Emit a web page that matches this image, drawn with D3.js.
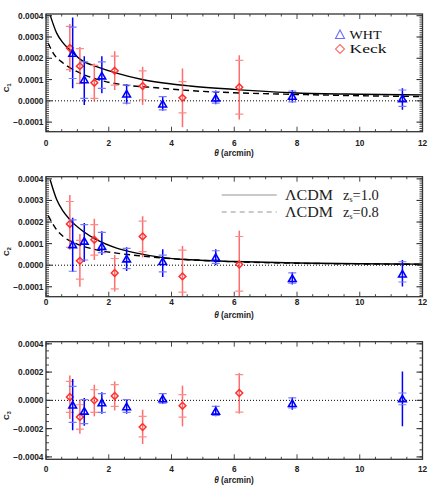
<!DOCTYPE html>
<html><head><meta charset="utf-8">
<script src="https://cdn.jsdelivr.net/npm/d3@7"></script>
<style>body{margin:0;background:#fff}svg{display:block}</style>
</head><body>
<script>
// ---------------- DATA (values in units of 1e-4) ----------------
const thetaWHT  = [0.85, 1.22, 1.78, 2.57, 3.72, 5.41, 7.85, 11.36];
const thetaKeck = [0.76, 1.08, 1.54, 2.19, 3.08, 4.35, 6.16];

// C1
const c1WHT       = [2.22, 0.98, 1.16, 0.31, -0.16, 0.12, 0.20, 0.09];
const c1WHTHi     = [3.92, 2.09, 2.09, 0.79, 0.23, 0.48, 0.51, 0.59];
const c1WHTLo     = [0.59, -0.19, 0.36, -0.16, -0.47, -0.16, -0.08, -0.42];
const c1WHTTickHi = [3.46, 1.83, 1.83, 0.74, 0.20, 0.43, 0.46, 0.51];
const c1WHTTickLo = [1.05, 0.12, 0.59, -0.11, -0.42, -0.11, -0.05, -0.26];
const c1Keck       = [2.48, 1.63, 0.85, 1.41, 0.70, 0.14, 0.64];
const c1KeckHi     = [3.61, 2.53, 1.75, 2.33, 1.60, 1.52, 2.14];
const c1KeckLo     = [1.36, 0.78, -0.03, 0.51, -0.19, -1.24, -0.88];
const c1KeckTickHi = [3.50, 2.45, 1.67, 2.10, 1.41, 0.90, 1.90];
const c1KeckTickLo = [1.47, 0.82, 0.12, 0.74, 0.05, -0.57, -0.62];

// C2
const c2WHT       = [0.94, 1.10, 0.86, 0.28, 0.16, 0.35, -0.63, -0.42];
const c2WHTHi     = [2.20, 1.96, 1.57, 0.83, 0.74, 0.74, -0.31, 0.24];
const c2WHTLo     = [-0.31, 0.16, 0.47, -0.27, -0.55, 0.00, -0.89, -0.99];
const c2WHTTickHi = [2.10, 1.88, 1.52, 0.78, 0.47, 0.67, -0.36, 0.16];
const c2WHTTickLo = [-0.28, 0.24, 0.58, -0.16, -0.31, 0.08, -0.83, -0.78];
const c2Keck       = [1.91, 0.20, 1.18, -0.36, 1.33, -0.52, 0.03];
const c2KeckHi     = [3.25, 1.45, 2.15, 0.47, 2.27, 0.89, 1.60];
const c2KeckLo     = [0.71, -1.00, 0.24, -1.22, 0.36, -1.50, -1.50];
const c2KeckTickHi = [2.95, 1.15, 1.88, 0.31, 2.04, 0.70, 1.33];
const c2KeckTickLo = [0.83, -0.65, 0.47, -1.10, 0.63, -1.25, -1.20];

// C3
const c3WHT       = [-0.35, -0.78, -0.19, -0.47, 0.09, -0.78, -0.24, 0.09];
const c3WHTHi     = [1.51, 0.17, 0.57, 0.09, 0.52, -0.38, 0.24, 2.05];
const c3WHTLo     = [-2.12, -1.79, -0.94, -0.94, -0.26, -1.13, -0.66, -1.84];
const c3WHTTickHi = [0.99, 0.05, 0.47, 0.05, 0.47, -0.42, 0.17, 0.52];
const c3WHTTickLo = [-1.56, -1.65, -0.85, -0.85, -0.19, -1.06, -0.54, -0.31];
const c3Keck       = [0.24, -1.18, 0.00, 0.31, -1.89, -0.38, 0.52];
const c3KeckHi     = [1.75, 0.05, 1.11, 1.34, -0.66, 1.04, 1.93];
const c3KeckLo     = [-1.32, -2.36, -1.13, -0.71, -3.09, -1.84, -0.94];
const c3KeckTickHi = [1.34, -0.31, 0.75, 1.11, -1.13, 0.40, 1.82];
const c3KeckTickLo = [-0.85, -2.03, -0.85, -0.42, -2.59, -1.18, -0.83];

// Model curves (LCDM)
const c1SolidTheta = [0.13, 0.34, 0.55, 0.76, 1.19, 1.61, 2.25, 3.1, 3.95, 4.59, 6, 8, 10, 12];
const c1SolidVal   = [4.04, 3.18, 2.71, 2.39, 1.85, 1.61, 1.30, 0.99, 0.80, 0.70, 0.54, 0.37, 0.31, 0.28];
const c1DashTheta  = [0.07, 0.23, 0.55, 0.98, 1.61, 2.46, 3.31, 4.59, 6, 8, 10, 12];
const c1DashVal    = [2.71, 2.24, 1.77, 1.38, 1.02, 0.75, 0.64, 0.48, 0.38, 0.30, 0.24, 0.20];
const c2SolidTheta = [0.13, 0.34, 0.55, 0.76, 1.19, 1.61, 2.25, 2.89, 3.74, 4.59, 6, 8, 10, 12];
const c2SolidVal   = [3.97, 3.04, 2.49, 2.11, 1.56, 1.18, 0.79, 0.56, 0.35, 0.25, 0.17, 0.10, 0.07, 0.05];
const c2DashTheta  = [0.07, 0.34, 0.55, 0.98, 1.61, 2.25, 2.89, 3.74, 4.59, 6, 8, 10, 12];
const c2DashVal    = [2.30, 1.64, 1.33, 0.99, 0.71, 0.56, 0.45, 0.33, 0.25, 0.16, 0.09, 0.06, 0.04];

const xTicks = [0, 2, 4, 6, 8, 10, 12];
const yTicks12 = [-1, 0, 1, 2, 3, 4];
const yTicks3 = [-4, -2, 0, 2, 4];
const legendSeries = ["WHT", "Keck"];
const legendModels = ["1.0", "0.8"];
const yLabels = ["1", "2", "3"];

// ---------------- DRAW ----------------
const W = 436, H = 490;
const svg = d3.select("body").append("svg").attr("width", W).attr("height", H);
const x = d3.scaleLinear().domain([0, 12]).range([46, 422.5]);
const fmtY = d => (d < 0 ? "\u2212" : "") + Math.abs(d * 1e-4).toFixed(4);
const tickFont = "'Liberation Sans', Arial, sans-serif";
const serif = "'Liberation Serif', 'Times New Roman', serif";
const BLUE = "#0000ff", BLUE_L = "#7a7aff", RED = "#ff3030", RED_L = "#ff8a8a";

const panels = [
  { top: 14, bottom: 131.7, domain: [-1.45, 4.08], yTicks: yTicks12, minor: 0.1, label: yLabels[0],
    wht: [c1WHT, c1WHTHi, c1WHTLo, c1WHTTickHi, c1WHTTickLo],
    keck: [c1Keck, c1KeckHi, c1KeckLo, c1KeckTickHi, c1KeckTickLo],
    solid: [c1SolidTheta, c1SolidVal], dash: [c1DashTheta, c1DashVal], xlab: 146, xtitle: 155.5 },
  { top: 176.7, bottom: 296.7, domain: [-1.46, 4.1], yTicks: yTicks12, minor: 0.1, label: yLabels[1],
    wht: [c2WHT, c2WHTHi, c2WHTLo, c2WHTTickHi, c2WHTTickLo],
    keck: [c2Keck, c2KeckHi, c2KeckLo, c2KeckTickHi, c2KeckTickLo],
    solid: [c2SolidTheta, c2SolidVal], dash: [c2DashTheta, c2DashVal], xlab: 305, xtitle: 317.5 },
  { top: 341.7, bottom: 459.3, domain: [-4.17, 4.15], yTicks: yTicks3, minor: 0.5, label: yLabels[2],
    wht: [c3WHT, c3WHTHi, c3WHTLo, c3WHTTickHi, c3WHTTickLo],
    keck: [c3Keck, c3KeckHi, c3KeckLo, c3KeckTickHi, c3KeckTickLo],
    solid: null, dash: null, xlab: 472, xtitle: 482.5 }
];

panels.forEach((p, i) => {
  const y = d3.scaleLinear().domain(p.domain).range([p.bottom, p.top]);
  const g = svg.append("g");
  const x0 = x(0), x1 = x(12);
  const clipId = "clip" + i;
  svg.append("clipPath").attr("id", clipId).append("rect")
    .attr("x", x0).attr("y", p.top).attr("width", x1 - x0).attr("height", p.bottom - p.top);

  // zero dotted line
  g.append("line").attr("x1", x0).attr("x2", x1).attr("y1", y(0)).attr("y2", y(0))
    .attr("stroke", "#000").attr("stroke-width", 1).attr("stroke-dasharray", "1,2");

  const pg = g.append("g").attr("clip-path", `url(#${clipId})`);
  const line = d3.line().x(d => x(d[0])).y(d => y(d[1])).curve(d3.curveMonotoneX);
  if (p.solid) {
    pg.append("path").attr("d", line(d3.zip(p.solid[0], p.solid[1])))
      .attr("fill", "none").attr("stroke", "#000").attr("stroke-width", 1.4);
    pg.append("path").attr("d", line(d3.zip(p.dash[0], p.dash[1])))
      .attr("fill", "none").attr("stroke", "#000").attr("stroke-width", 1.4).attr("stroke-dasharray", "6,4");
  }

  function series(th, arr, col, colL, shape) {
    const [v, hi, lo, th1, tl1] = arr;
    th.forEach((t, k) => {
      const cx = x(t);
      pg.append("line").attr("x1", cx).attr("x2", cx).attr("y1", y(lo[k])).attr("y2", y(hi[k]))
        .attr("stroke", col).attr("stroke-width", 1.5).attr("opacity", shape === "d" ? 0.7 : 1);
      [th1[k], tl1[k]].forEach(tv => {
        pg.append("line").attr("x1", cx - 4).attr("x2", cx + 4).attr("y1", y(tv)).attr("y2", y(tv))
          .attr("stroke", colL).attr("stroke-width", 1.2);
      });
      const cy = y(v[k]);
      if (shape === "t") {
        pg.append("path").attr("d", `M${cx},${cy - 3.8}L${cx + 3.8},${cy + 2.7}L${cx - 3.8},${cy + 2.7}Z`)
          .attr("fill", "none").attr("stroke", col).attr("stroke-width", 1.6);
      } else {
        pg.append("path").attr("d", `M${cx},${cy - 3.4}L${cx + 3.4},${cy}L${cx},${cy + 3.4}L${cx - 3.4},${cy}Z`)
          .attr("fill", "none").attr("stroke", col).attr("stroke-width", 1.5);
      }
    });
  }
  series(thetaKeck, p.keck, RED, RED_L, "d");
  series(thetaWHT, p.wht, BLUE, BLUE_L, "t");

  // frame
  g.append("rect").attr("x", x0).attr("y", p.top).attr("width", x1 - x0).attr("height", p.bottom - p.top)
    .attr("fill", "none").attr("stroke", "#333").attr("stroke-width", 1.3);

  // y ticks (minor + major, both sides)
  const ax = g.append("g").attr("stroke", "#333").attr("stroke-width", 0.9);
  const minors = d3.range(Math.ceil(p.domain[0] / p.minor), Math.floor(p.domain[1] / p.minor) + 1).map(k => k * p.minor);
  minors.forEach(v => {
    ax.append("line").attr("x1", x0).attr("x2", x0 + 3).attr("y1", y(v)).attr("y2", y(v));
    ax.append("line").attr("x1", x1).attr("x2", x1 - 3).attr("y1", y(v)).attr("y2", y(v));
  });
  p.yTicks.forEach(v => {
    ax.append("line").attr("x1", x0).attr("x2", x0 + 6).attr("y1", y(v)).attr("y2", y(v)).attr("stroke-width", 1.1);
    ax.append("line").attr("x1", x1).attr("x2", x1 - 6).attr("y1", y(v)).attr("y2", y(v)).attr("stroke-width", 1.1);
    g.append("text").attr("x", 43.5).attr("y", y(v) + 3).attr("text-anchor", "end")
      .attr("font-family", tickFont).attr("font-weight", "bold").attr("font-size", 8.3).attr("fill", "#222")
      .text(fmtY(v));
  });
  // x ticks
  d3.range(0, 12.01, 0.5).forEach(t => {
    const major = xTicks.includes(t);
    const len = major ? 5 : 2.5;
    ax.append("line").attr("x1", x(t)).attr("x2", x(t)).attr("y1", p.bottom).attr("y2", p.bottom - len);
    ax.append("line").attr("x1", x(t)).attr("x2", x(t)).attr("y1", p.top).attr("y2", p.top + len);
  });
  xTicks.forEach(t => {
    g.append("text").attr("x", x(t)).attr("y", p.xlab).attr("text-anchor", "middle")
      .attr("font-family", tickFont).attr("font-weight", "bold").attr("font-size", 8.3).attr("fill", "#222")
      .text(t);
  });
  const xt = g.append("text").attr("x", 234).attr("y", p.xtitle).attr("text-anchor", "middle")
    .attr("font-family", tickFont).attr("font-weight", "bold").attr("font-size", 8.3).attr("fill", "#222");
  xt.append("tspan").attr("font-style", "italic").text("\u03B8");
  xt.append("tspan").text(" (arcmin)");

  // y label
  const yc = (p.top + p.bottom) / 2 + 15;
  const yl = g.append("text").attr("transform", `translate(9,${yc}) rotate(-90)`).attr("text-anchor", "middle")
    .attr("font-family", tickFont).attr("font-weight", "bold").attr("font-size", 8).attr("fill", "#222");
  yl.append("tspan").text("C");
  yl.append("tspan").attr("font-size", 5.5).attr("dy", 2).text(p.label);
});

// Legend panel 1
const lg = svg.append("g");
lg.append("path").attr("d", "M340,30L344.5,38.5L335.5,38.5Z").attr("fill", "none").attr("stroke", "#6b6bff").attr("stroke-width", 1.1);
lg.append("path").attr("d", "M340,44.5L344.5,49L340,53.5L335.5,49Z").attr("fill", "none").attr("stroke", "#ff6b6b").attr("stroke-width", 1.1);
lg.append("text").attr("x", 349.5).attr("y", 39.3).attr("font-family", serif).attr("font-size", 13.5)
  .attr("textLength", 32).attr("lengthAdjust", "spacingAndGlyphs").attr("fill", "#111").text(legendSeries[0]);
lg.append("text").attr("x", 349.5).attr("y", 53.3).attr("font-family", serif).attr("font-size", 13.5)
  .attr("textLength", 37).attr("lengthAdjust", "spacingAndGlyphs").attr("fill", "#111").text(legendSeries[1]);

// Legend panel 2
const l2 = svg.append("g");
[[195, null], [212, "5,4"]].forEach(([yy, dash], k) => {
  const ln = l2.append("line").attr("x1", 221.7).attr("x2", 276.7).attr("y1", yy).attr("y2", yy)
    .attr("stroke", "#888").attr("stroke-width", 0.9);
  if (dash) ln.attr("stroke-dasharray", dash);
  l2.append("text").attr("x", 285).attr("y", yy + 5).attr("font-family", serif).attr("font-size", 14.5)
    .attr("fill", "#222").attr("textLength", 48).attr("lengthAdjust", "spacingAndGlyphs").text("\u039BCDM");
  const t = l2.append("text").attr("x", 343).attr("y", yy + 5).attr("font-family", serif).attr("font-size", 14.5).attr("fill", "#222");
  t.append("tspan").text("z");
  t.append("tspan").attr("font-size", 8).attr("dy", 2).text("s");
  t.append("tspan").attr("dy", -2).text("=" + legendModels[k]);
});
</script>
</body></html>
